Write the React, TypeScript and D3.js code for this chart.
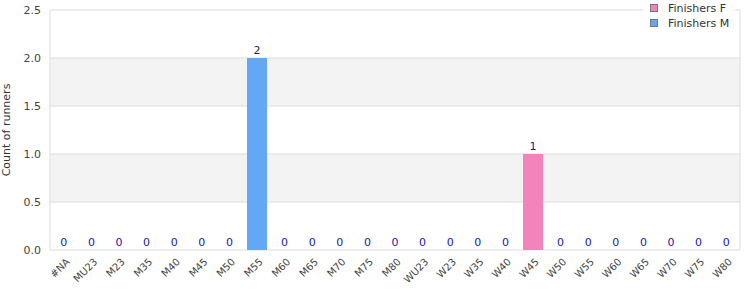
import React from "react";
import * as d3 from "d3";

const categories = ["#NA","MU23","M23","M35","M40","M45","M50","M55","M60","M65","M70","M75","M80","WU23","W23","W35","W40","W45","W50","W55","W60","W65","W70","W75","W80"];
const finishersF = [0,0,0,0,0,0,0,0,0,0,0,0,0,0,0,0,0,1,0,0,0,0,0,0,0];
const finishersM = [0,0,0,0,0,0,0,2,0,0,0,0,0,0,0,0,0,0,0,0,0,0,0,0,0];
const yTicks = [0, 0.5, 1.0, 1.5, 2.0, 2.5];
const seriesNames = ["Finishers F", "Finishers M"];
const seriesColors = ["#f283bb", "#62a8f4"];

export default function App() {
  const W = 750, H = 300;
  const left = 50, right = 740, top = 10, bottom = 250;
  const x = d3.scaleBand<string>().domain(categories).range([left, right]).paddingInner(0.275).paddingOuter(0.1375);
  const y = d3.scaleLinear().domain([0, 2.5]).range([bottom, top]);
  const font = "DejaVu Sans, Verdana, sans-serif";
  const stackData = categories.map((c, i) => ({ cat: c, F: finishersF[i], M: finishersM[i] }));
  const stack = d3.stack<any>().keys(["F", "M"])(stackData);
  return (
    <svg width={W} height={H} style={{ position: "absolute", left: 0, top: 0 }} fontFamily={font}>
      {yTicks.slice(0, -1).map((t, i) => i % 2 === 1 ? (
        <rect key={"b" + i} x={left} y={y(yTicks[i + 1])} width={right - left} height={y(t) - y(yTicks[i + 1])} fill="#f3f3f3" />
      ) : null)}
      {yTicks.map((t) => (
        <line key={"g" + t} x1={left} x2={right} y1={y(t)} y2={y(t)} stroke="#dddddd" strokeWidth={1} />
      ))}
      <line x1={left} x2={left} y1={top} y2={bottom} stroke="#dddddd" />
      <line x1={right} x2={right} y1={top} y2={bottom} stroke="#dddddd" />
      {yTicks.map((t) => (
        <text key={"yt" + t} x={left - 9} y={y(t)} dy="0.35em" textAnchor="end" fontSize={11} fill="#444">{t.toFixed(1)}</text>
      ))}
      <text transform={`translate(10,${(top + bottom) / 2}) rotate(-90)`} textAnchor="middle" fontSize={11} fill="#333">Count of runners</text>
      {stack.map((s, si) => s.map((d, i) => d[1] - d[0] > 0 ? (
        <rect key={`r${si}-${i}`} x={x(categories[i])} width={x.bandwidth()} y={y(d[1])} height={y(d[0]) - y(d[1])} fill={seriesColors[si]} />
      ) : null))}
      {categories.map((c, i) => {
        const total = finishersF[i] + finishersM[i];
        return (
          <text key={"v" + c} x={(x(c) as number) + x.bandwidth() / 2} y={y(total) - 4} textAnchor="middle" fontSize={11} fill="#1a1aa6">{total}</text>
        );
      })}
      {categories.map((c) => {
        const cx = (x(c) as number) + x.bandwidth() / 2;
        return (
          <text key={"x" + c} transform={`translate(${cx + 4},${bottom + 10}) rotate(-45)`} textAnchor="end" dy="0.35em" fontSize={10} fill="#444">{c}</text>
        );
      })}
      <rect x={643} y={0} width={92} height={32} fill="#fff" />
      {seriesNames.map((n, i) => (
        <g key={n}>
          <rect x={650.5} y={4.5 + i * 15} width={7} height={7} fill={seriesColors[i]} stroke="#777" strokeWidth={1} />
          <text x={668} y={8 + i * 15} dy="0.35em" fontSize={11} fill="#333">{n}</text>
        </g>
      ))}
    </svg>
  );
}
